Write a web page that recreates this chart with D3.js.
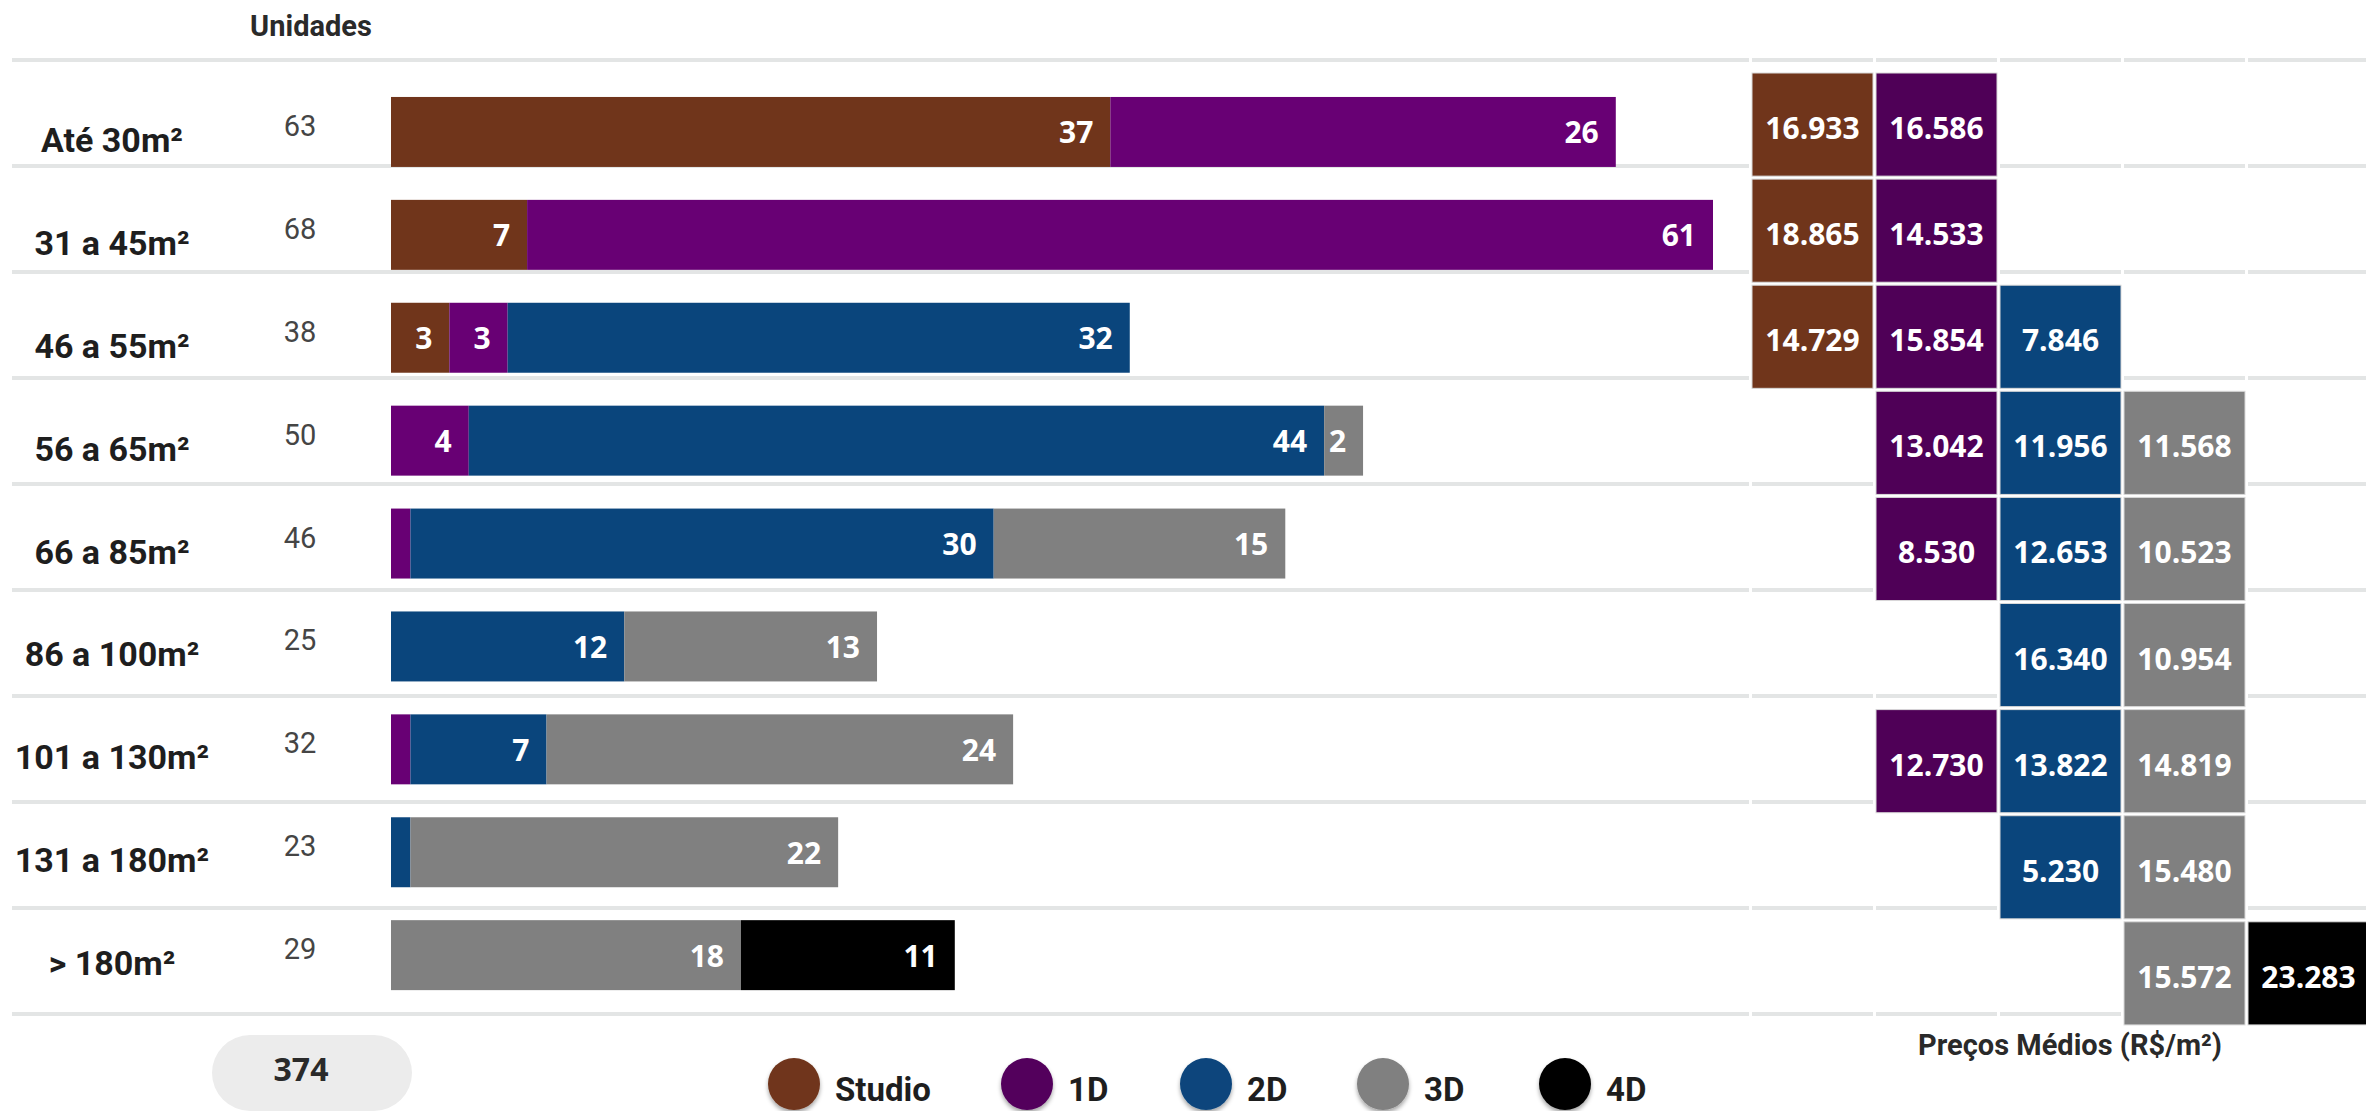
<!DOCTYPE html>
<html>
<head>
<meta charset="utf-8">
<script src="https://cdn.jsdelivr.net/npm/d3@7"></script>
<style>
  html, body { margin: 0; padding: 0; background: #fff; }
  svg { display: block; }
</style>
</head>
<body>
<svg id="chart" width="2366" height="1111"></svg>
<script>
// ---------- DATA ----------
const categories = ["Até 30m²", "31 a 45m²", "46 a 55m²", "56 a 65m²", "66 a 85m²", "86 a 100m²", "101 a 130m²", "131 a 180m²", "> 180m²"];
const types = ["Studio", "1D", "2D", "3D", "4D"];

const unitsStudio = [37, 7, 3, 0, 0, 0, 0, 0, 0];
const units1D     = [26, 61, 3, 4, 1, 0, 1, 0, 0];
const units2D     = [0, 0, 32, 44, 30, 12, 7, 1, 0];
const units3D     = [0, 0, 0, 2, 15, 13, 24, 22, 18];
const units4D     = [0, 0, 0, 0, 0, 0, 0, 0, 11];

const priceStudio = [16933, 18865, 14729, null, null, null, null, null, null];
const price1D     = [16586, 14533, 15854, 13042, 8530, null, 12730, null, null];
const price2D     = [null, null, 7846, 11956, 12653, 16340, 13822, 5230, null];
const price3D     = [null, null, null, 11568, 10523, 10954, 14819, 15480, 15572];
const price4D     = [null, null, null, null, null, null, null, null, 23283];

const barColors   = {"Studio": "#70351b", "1D": "#680074", "2D": "#0a457c", "3D": "#808080", "4D": "#000000"};
const cellColors  = {"Studio": "#70351b", "1D": "#4f0057", "2D": "#0a457c", "3D": "#808080", "4D": "#000000"};
const legendColors= {"Studio": "#70351b", "1D": "#52005c", "2D": "#0a457c", "3D": "#808080", "4D": "#000000"};

const unitsByType = {"Studio": unitsStudio, "1D": units1D, "2D": units2D, "3D": units3D, "4D": units4D};
const priceByType = {"Studio": priceStudio, "1D": price1D, "2D": price2D, "3D": price3D, "4D": price4D};

// ---------- BUILD ----------
const rows = categories.map((c, i) => {
  const r = {cat: c};
  types.forEach(t => r[t] = unitsByType[t][i]);
  r.total = d3.sum(types, t => r[t]);
  return r;
});
const grandTotal = d3.sum(rows, r => r.total);

const stack = d3.stack().keys(types)(rows);

const svg = d3.select("#chart");
const fmt = d3.formatLocale({decimal: ",", thousands: ".", grouping: [3], currency: ["R$", ""]}).format(",d");

const x = d3.scaleLinear().domain([0, 68]).range([391, 1713]);
const yBar = d3.scaleBand().domain(categories).range([80.5, 1006.6]).paddingInner(0.32).paddingOuter(0.16);
const yGrid = d3.scaleBand().domain(categories).range([60, 1014]).padding(0);
const yCell = d3.scaleBand().domain(categories).range([73, 73 + 106.1 * (9 - 0.028)]).paddingInner(0.028).paddingOuter(0);
const xCell = d3.scaleBand().domain(types).range([1752, 1752 + 124 * (5 - 3/124)]).paddingInner(3/124).paddingOuter(0);

const defs = svg.append("defs");
const f = defs.append("filter").attr("id", "shadow").attr("x", "-30%").attr("y", "-30%").attr("width", "160%").attr("height", "160%");
f.append("feDropShadow").attr("dx", 0).attr("dy", 3).attr("stdDeviation", 2).attr("flood-color", "#000").attr("flood-opacity", 0.35);

// gridlines
const gridYs = categories.map(c => yGrid(c)).concat([yGrid.range()[1]]);
const grid = svg.append("g").attr("stroke", "#e3e5e5").attr("stroke-width", 4);
gridYs.forEach(gy => {
  grid.append("line").attr("x1", 12).attr("x2", 1749).attr("y1", gy).attr("y2", gy);
  types.forEach(t => {
    grid.append("line").attr("x1", xCell(t)).attr("x2", xCell(t) + xCell.bandwidth()).attr("y1", gy).attr("y2", gy);
  });
});

// header
svg.append("text").attr("x", 311).attr("y", 36).attr("text-anchor", "middle")
  .attr("font-family", "Roboto, sans-serif").attr("font-weight", 700).attr("font-size", 29).attr("fill", "#2a2a2a")
  .text("Unidades");

// row labels
svg.append("g").selectAll("text").data(rows).join("text")
  .attr("x", 112).attr("y", d => yBar(d.cat) + yBar.bandwidth() / 2 + 8)
  .attr("dominant-baseline", "central").attr("text-anchor", "middle")
  .attr("font-family", "Roboto, sans-serif").attr("font-weight", 700).attr("font-size", 34).attr("fill", "#1e1e1e")
  .text(d => d.cat);

// units totals
svg.append("g").selectAll("text").data(rows).join("text")
  .attr("x", 300).attr("y", d => yBar(d.cat) + yBar.bandwidth() / 2 - 6)
  .attr("dominant-baseline", "central").attr("text-anchor", "middle")
  .attr("font-family", "Roboto, sans-serif").attr("font-weight", 400).attr("font-size", 29).attr("fill", "#454545")
  .text(d => d.total);

// stacked bars
const layers = svg.append("g").selectAll("g").data(stack).join("g").attr("fill", s => barColors[s.key]);
layers.selectAll("rect").data(s => s.map(d => ({d, key: s.key}))).join("rect")
  .attr("x", e => x(e.d[0])).attr("width", e => x(e.d[1]) - x(e.d[0]))
  .attr("y", e => yBar(e.d.data.cat)).attr("height", yBar.bandwidth());

// bar value labels
const labelG = svg.append("g");
stack.forEach(s => {
  s.forEach(d => {
    const v = d.data[s.key];
    if (v >= 2) {
      labelG.append("text")
        .attr("x", x(d[1]) - 17).attr("y", yBar(d.data.cat) + yBar.bandwidth() / 2)
        .attr("dominant-baseline", "central").attr("text-anchor", "end")
        .attr("font-family", "'Open Sans', sans-serif").attr("font-weight", 700).attr("font-size", 30).attr("fill", "#fff")
        .text(v);
    }
  });
});

// price cells
const cells = [];
types.forEach(t => categories.forEach((c, i) => {
  const p = priceByType[t][i];
  if (p != null) cells.push({t, c, p});
}));
const cg = svg.append("g");
cg.selectAll("rect").data(cells).join("rect")
  .attr("x", d => xCell(d.t)).attr("y", d => yCell(d.c))
  .attr("width", xCell.bandwidth()).attr("height", yCell.bandwidth())
  .attr("fill", d => cellColors[d.t]).attr("stroke", "#d9d9d9").attr("stroke-width", 1);
cg.selectAll("text").data(cells).join("text")
  .attr("x", d => xCell(d.t) + xCell.bandwidth() / 2).attr("y", d => yCell(d.c) + yCell.bandwidth() / 2 + 3)
  .attr("dominant-baseline", "central").attr("text-anchor", "middle")
  .attr("font-family", "'Open Sans', sans-serif").attr("font-weight", 700).attr("font-size", 30).attr("fill", "#fff")
  .text(d => fmt(d.p));

svg.append("text").attr("x", 2070).attr("y", 1045).attr("dominant-baseline", "central").attr("text-anchor", "middle")
  .attr("font-family", "Roboto, sans-serif").attr("font-weight", 700).attr("font-size", 29).attr("fill", "#2a2a2a")
  .text("Preços Médios (R$/m²)");

// total pill
svg.append("rect").attr("x", 212).attr("y", 1035).attr("width", 200).attr("height", 76).attr("rx", 38).attr("ry", 38).attr("fill", "#ececec");
svg.append("text").attr("x", 301).attr("y", 1068).attr("dominant-baseline", "central").attr("text-anchor", "middle")
  .attr("font-family", "'Open Sans', sans-serif").attr("font-weight", 700).attr("font-size", 32).attr("fill", "#2a2a2a")
  .text(grandTotal);

// legend
const legendX = [794, 1027, 1206, 1383, 1565];
const lg = svg.append("g").selectAll("g").data(types).join("g")
  .attr("transform", (t, i) => `translate(${legendX[i]},1084)`);
lg.append("circle").attr("r", 26).attr("fill", t => legendColors[t]).attr("filter", "url(#shadow)");
lg.append("text").attr("x", 41).attr("y", 5).attr("dominant-baseline", "central")
  .attr("font-family", "Roboto, sans-serif").attr("font-weight", 700).attr("font-size", 33).attr("fill", "#1e1e1e")
  .text(t => t);
</script>
</body>
</html>
